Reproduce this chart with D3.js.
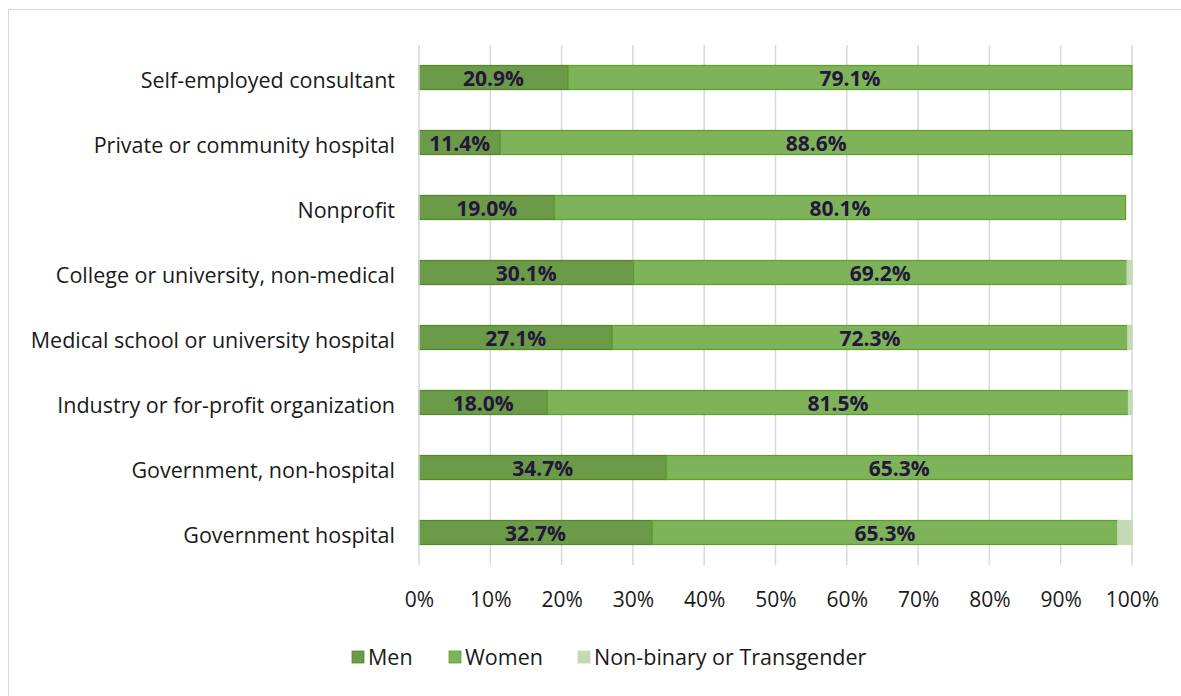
<!DOCTYPE html>
<html>
<head>
<meta charset="utf-8">
<script src="https://cdn.jsdelivr.net/npm/d3@7"></script>
<style>
  body { margin: 0; background: #fff; }
  svg { display: block; font-family: "Open Sans", Lato, sans-serif; }
</style>
</head>
<body>
<div id="wrapper"></div>
<script>
// data
const categories = [
  "Self-employed consultant",
  "Private or community hospital",
  "Nonprofit",
  "College or university, non-medical",
  "Medical school or university hospital",
  "Industry or for-profit organization",
  "Government, non-hospital",
  "Government hospital"
]
const men = [20.9, 11.4, 19.0, 30.1, 27.1, 18.0, 34.7, 32.7]
const women = [79.1, 88.6, 80.1, 69.2, 72.3, 81.5, 65.3, 65.3]
const nonBinary = [0, 0, 0, 0.7, 0.6, 0.5, 0, 2.0]
const seriesNames = ["Men", "Women", "Non-binary or Transgender"]
const xTicks = [0, 10, 20, 30, 40, 50, 60, 70, 80, 90, 100]

const colors = ["#6b9a48", "#7eb35a", "#c3dab5"]
const strokes = ["#4f8a22", "#5aa02a", "#c3dab5"]

const dataset = categories.map((c, i) => ({
  category: c, Men: men[i], Women: women[i], "Non-binary or Transgender": nonBinary[i]
}))

const dims = {
  width: 1181, height: 696,
  margin: { top: 45, right: 49, bottom: 131, left: 419 }
}
dims.boundedWidth = dims.width - dims.margin.left - dims.margin.right
dims.boundedHeight = dims.height - dims.margin.top - dims.margin.bottom

const svg = d3.select("#wrapper").append("svg")
  .attr("width", dims.width)
  .attr("height", dims.height)

// frame
svg.append("rect")
  .attr("x", 8.5).attr("y", 9.5)
  .attr("width", 1200).attr("height", 800)
  .attr("fill", "none").attr("stroke", "#d9d9d9")

const bounds = svg.append("g")
  .attr("transform", `translate(${dims.margin.left},${dims.margin.top})`)

const xScale = d3.scaleLinear().domain([0, 100]).range([0, dims.boundedWidth])
const yScale = d3.scaleBand().domain(categories).range([0, dims.boundedHeight]).paddingInner(0.63).paddingOuter(0.315)

// gridlines
bounds.append("g").selectAll("line")
  .data(xTicks.slice(1))
  .join("line")
  .attr("x1", d => xScale(d)).attr("x2", d => xScale(d))
  .attr("y1", 0).attr("y2", dims.boundedHeight)
  .attr("stroke", "#d9d9d9").attr("stroke-width", 1.5)

const stacked = d3.stack().keys(seriesNames)(dataset)

const layers = bounds.selectAll("g.layer")
  .data(stacked)
  .join("g").attr("class", "layer")

layers.selectAll("rect")
  .data((d, i) => d.map(p => ({ p, i })))
  .join("rect")
  .attr("x", d => xScale(d.p[0]))
  .attr("y", d => yScale(d.p.data.category))
  .attr("width", d => Math.max(0, xScale(d.p[1]) - xScale(d.p[0])))
  .attr("height", yScale.bandwidth())
  .attr("fill", d => colors[d.i])
  .attr("stroke", d => d.p[1] - d.p[0] > 0 ? strokes[d.i] : "none")
  .attr("stroke-width", 1.2)

// value labels for men and women
layers.filter((d, i) => i < 2).selectAll("text")
  .data(d => d)
  .join("text")
  .attr("x", d => xScale((d[0] + d[1]) / 2))
  .attr("y", d => yScale(d.data.category) + yScale.bandwidth() / 2)
  .attr("dy", "0.4em")
  .attr("text-anchor", "middle")
  .attr("font-size", 21)
  .attr("font-weight", "bold")
  .attr("fill", "#23173a")
  .text(d => (d[1] - d[0]).toFixed(1) + "%")

// y axis line
bounds.append("line")
  .attr("x1", 0).attr("x2", 0)
  .attr("y1", 0).attr("y2", dims.boundedHeight)
  .attr("stroke", "#d9d9d9").attr("stroke-width", 1.5)

// category labels
const yAxis = bounds.append("g")
  .call(d3.axisLeft(yScale).tickSize(0).tickPadding(24))
yAxis.select(".domain").remove()
yAxis.selectAll("text")
  .attr("dy", "0.48em")
  .attr("font-size", 21.5)
  .attr("font-family", "'Open Sans', sans-serif")
  .attr("fill", "#1a1a1a")

// x axis
const xAxis = bounds.append("g")
  .attr("transform", `translate(0,${dims.boundedHeight})`)
  .call(d3.axisBottom(xScale).tickValues(xTicks).tickSize(0).tickPadding(27).tickFormat(d => d + "%"))
xAxis.select(".domain").remove()
xAxis.selectAll("text")
  .attr("font-size", 21)
  .attr("font-family", "'Open Sans', sans-serif")
  .attr("fill", "#1a1a1a")

// legend
const legendX = [352, 449, 578]
const legend = svg.append("g")
  .selectAll("g")
  .data(seriesNames)
  .join("g")
  .attr("transform", (d, i) => `translate(${legendX[i]},657)`)
legend.append("rect")
  .attr("x", 0).attr("y", -6)
  .attr("width", 12).attr("height", 12)
  .attr("fill", (d, i) => colors[i])
  .attr("stroke", (d, i) => strokes[i]).attr("stroke-width", 0.8)
legend.append("text")
  .attr("x", 16).attr("dy", "0.36em")
  .attr("font-size", 21.5)
  .attr("fill", "#1a1a1a")
  .text(d => d)
</script>
</body>
</html>
